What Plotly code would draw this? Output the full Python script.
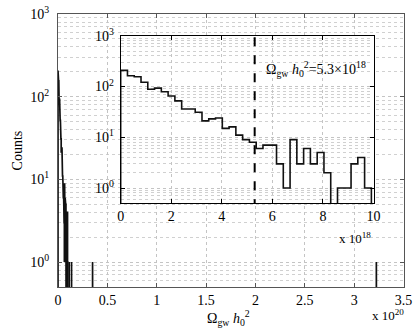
import plotly.graph_objects as go

# inset histogram: counts per bin, bins start at 0 (units of 1e18)
bin_width = 0.268
counts = [208, 163, 156, 121, 88, 93, 79, 65, 52, 36, 36, 31, 21, 23, 24, 15, 16,
          11, 9, 8, 6, 7, 7, 3, 1, 9, 3, 6, 3, 5, 2, 0, 1, 1, 3, 4, 1]
# isolated large values (units of 1e18), one count each
outliers = [11.3, 13.7, 35.0, 322.5]
outlier_width = 0.27
threshold = 5.3

x_ticks_main = [0, 0.5, 1, 1.5, 2, 2.5, 3, 3.5]
x_ticks_inset = [0, 2, 4, 6, 8, 10]
y_ticks = [1, 10, 100, 1000]
y_tick_text = ['10<sup>0</sup>', '10<sup>1</sup>', '10<sup>2</sup>', '10<sup>3</sup>']

FLOOR = 0.01  # empty bins drop below the axis floor
FONT = 'Liberation Serif'


def stairs(scale):
    """Outline of the histogram plus the isolated bars, x divided by scale."""
    xs, ys = [0], [FLOOR]
    for i, c in enumerate(counts):
        c = c if c > 0 else FLOOR
        xs += [i * bin_width / scale, (i + 1) * bin_width / scale]
        ys += [c, c]
    xs.append(len(counts) * bin_width / scale)
    ys.append(FLOOR)
    for o in outliers:
        xs += [None, o / scale, o / scale, (o + outlier_width) / scale, (o + outlier_width) / scale]
        ys += [None, FLOOR, 1, 1, FLOOR]
    return xs, ys


fig = go.Figure()

mx, my = stairs(100.0)
fig.add_trace(go.Scatter(x=mx, y=my, mode='lines', xaxis='x', yaxis='y',
                         line=dict(color='#111111', width=1.7), showlegend=False))

ix, iy = stairs(1.0)
n = 2 * len(counts) + 2
fig.add_trace(go.Scatter(x=ix[:n], y=iy[:n], mode='lines', xaxis='x2', yaxis='y2',
                         line=dict(color='#111111', width=1.6), showlegend=False))
fig.add_trace(go.Scatter(x=[threshold, threshold], y=[0.4, 1200], mode='lines',
                         xaxis='x2', yaxis='y2',
                         line=dict(color='black', width=2, dash='dash'), showlegend=False))

grid = dict(showgrid=True, gridcolor='#c4c4c4', griddash='dot', gridwidth=1)
minor = dict(dtick='D1', showgrid=True, gridcolor='#d0d0d0', griddash='dot')
axis_common = dict(showline=True, mirror='ticks', ticks='inside', ticklen=4, zeroline=False,
                   automargin=False, tickfont=dict(family=FONT, size=14, color='black'))

fig.update_layout(
    width=415, height=335,
    margin=dict(l=0, r=0, t=0, b=0),
    paper_bgcolor='white', plot_bgcolor='white',
    font=dict(family=FONT, size=14, color='black'),
    xaxis=dict(domain=[0.1398, 0.9723], range=[0, 3.5], tickvals=x_ticks_main,
               ticktext=[str(t) for t in x_ticks_main], linecolor='#555555', tickcolor='#555555',
               anchor='y', **grid, **axis_common),
    yaxis=dict(domain=[0.1433, 0.958], type='log', range=[-0.301, 3], tickvals=y_ticks,
               ticktext=y_tick_text, linecolor='#555555', tickcolor='#555555', anchor='x',
               ticklabelstandoff=5, minor=minor,
               title=dict(text='Counts', standoff=4, font=dict(family=FONT, size=14)),
               **grid, **axis_common),
    xaxis2=dict(domain=[0.2908, 0.9000], range=[0, 10], tickvals=x_ticks_inset,
                ticktext=[str(t) for t in x_ticks_inset], linecolor='black', tickcolor='black',
                anchor='y2', **grid, **axis_common),
    yaxis2=dict(domain=[0.393, 0.8934], type='log', range=[-0.301, 3], tickvals=y_ticks,
                ticktext=y_tick_text, linecolor='black', tickcolor='black', anchor='x2',
                ticklabelstandoff=3, minor=minor, **grid, **axis_common),
)

fig.add_annotation(text='Ω<sub>gw</sub> <i>h</i><sub>0</sub><sup>2</sup>', xref='paper', yref='paper',
                   x=0.55, y=0.015, xanchor='center', yanchor='bottom', showarrow=False,
                   font=dict(family=FONT, size=14))
fig.add_annotation(text='x 10<sup>20</sup>', xref='paper', yref='paper',
                   x=0.935, y=0.03, xanchor='center', yanchor='bottom', showarrow=False,
                   font=dict(family=FONT, size=13))
fig.add_annotation(text='x 10<sup>18</sup>', xref='paper', yref='paper',
                   x=0.855, y=0.26, xanchor='center', yanchor='bottom', showarrow=False,
                   font=dict(family=FONT, size=13))
fig.add_annotation(text='Ω<sub>gw</sub> <i>h</i><sub>0</sub><sup>2</sup>=5.3×10<sup>18</sup>',
                   xref='paper', yref='paper', x=0.635, y=0.795, xanchor='left', yanchor='middle',
                   showarrow=False, font=dict(family=FONT, size=14))

fig.write_html('out.html', config={'displayModeBar': False},
               post_script="document.body.style.margin='0';")
